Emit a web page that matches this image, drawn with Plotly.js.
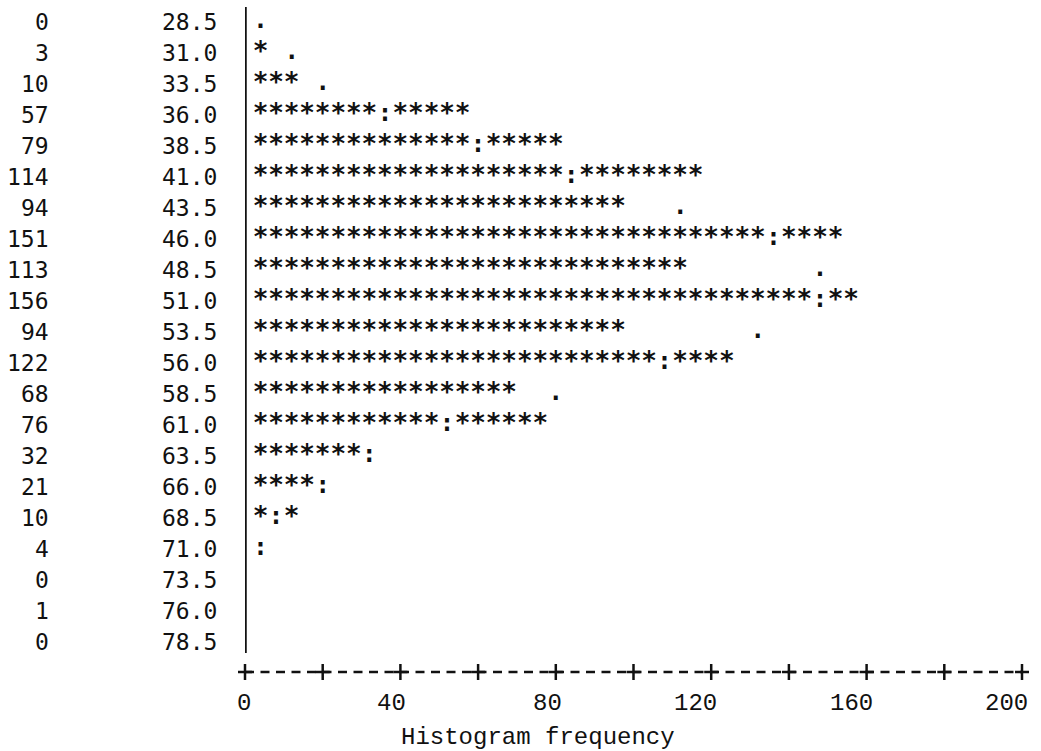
<!DOCTYPE html>
<html>
<head>
<meta charset="utf-8">
<script src="https://cdn.plot.ly/plotly-3.0.1.min.js"></script>
<style>
  html, body { margin: 0; padding: 0; background: #ffffff; }
  #chart { width: 1041px; height: 751px; }
</style>
</head>
<body>
<div id="chart"></div>
<script>
// ---- data (line-printer histogram) ----
const bins = [28.5, 31.0, 33.5, 36.0, 38.5, 41.0, 43.5, 46.0, 48.5, 51.0, 53.5,
              56.0, 58.5, 61.0, 63.5, 66.0, 68.5, 71.0, 73.5, 76.0, 78.5];
const binLabels = ['28.5', '31.0', '33.5', '36.0', '38.5', '41.0', '43.5', '46.0', '48.5', '51.0', '53.5',
                   '56.0', '58.5', '61.0', '63.5', '66.0', '68.5', '71.0', '73.5', '76.0', '78.5'];
const counts = [0, 3, 10, 57, 79, 114, 94, 151, 113, 156, 94,
                122, 68, 76, 32, 21, 10, 4, 0, 1, 0];
// expected (fitted) frequency marks shown as ':' inside a bar or '.' beyond it
const expected = [2, 10, 18, 34, 58, 82, 110, 134, 146, 146, 130,
                  106, 78, 50, 30, 18, 6, 2, null, null, null];
const unitsPerSymbol = 4;
const xRange = [0, 200];
const xTickVals = [0, 20, 40, 60, 80, 100, 120, 140, 160, 180, 200];
const xTickLabels = ['0', '', '40', '', '80', '', '120', '', '160', '', '200'];
const xTitle = 'Histogram frequency';

// ---- build symbol traces from the data ----
const starX = [], starY = [];
const markX = [], markY = [], markT = [];
for (let r = 0; r < bins.length; r++) {
  const n = Math.round(counts[r] / unitsPerSymbol);
  const k = expected[r] == null ? -1 : Math.floor(expected[r] / unitsPerSymbol);
  for (let i = 0; i < n; i++) {
    if (i === k) continue;
    starX.push(unitsPerSymbol * (i + 1));
    starY.push(bins[r]);
  }
  if (k >= 0) {
    markX.push(unitsPerSymbol * (k + 1));
    markY.push(bins[r]);
    markT.push(k < n ? ':' : '.');
  }
}

const mono = 'DejaVu Sans Mono, monospace';
const courier = 'Liberation Mono, monospace';

const traces = [
  {
    type: 'scatter', mode: 'text',
    x: starX, y: starY,
    text: starX.map(() => '*'),
    textposition: 'middle center',
    textfont: { family: mono, size: 26, weight: 'bold', color: '#111111' },
    cliponaxis: false, hoverinfo: 'skip', showlegend: false
  },
  {
    type: 'scatter', mode: 'text',
    x: markX, y: markY, text: markT,
    textposition: 'middle center',
    textfont: { family: mono, size: 24, weight: 'bold', color: '#111111' },
    cliponaxis: false, hoverinfo: 'skip', showlegend: false
  }
];

const plotLeft = 245, plotW = 777;
const plotTop = 7, plotBottom = 672, plotH = plotBottom - plotTop;
const rowPx = 31;
const yTop = bins[0] - (22 - plotTop) / (rowPx / 2.5);
const yBot = bins[bins.length - 1] + (plotBottom - 642) / (rowPx / 2.5);

const toPaperX = v => (v - xRange[0]) / (xRange[1] - xRange[0]);

const shapes = [];
// vertical bar "|"
shapes.push({ type: 'line', xref: 'x', yref: 'paper', x0: 0, x1: 0,
  y0: (plotBottom - 653) / plotH, y1: 1, line: { color: '#111111', width: 3.5 } });
// dashed axis "+----+----+"
shapes.push({ type: 'line', xref: 'x', yref: 'paper', x0: xRange[0], x1: xRange[1],
  y0: 0, y1: 0, line: { color: '#111111', width: 2.5, dash: '9px,6.5px' } });
xTickVals.forEach(v => {
  shapes.push({ type: 'line', xref: 'paper', yref: 'paper', x0: toPaperX(v), x1: toPaperX(v),
    y0: -8 / plotH, y1: 8 / plotH, line: { color: '#111111', width: 2.5 } });
  shapes.push({ type: 'line', xref: 'paper', yref: 'paper',
    x0: toPaperX(v) - 7 / plotW, x1: toPaperX(v) + 7 / plotW,
    y0: 0, y1: 0, line: { color: '#111111', width: 2.5 } });
});

const annotations = counts.map((c, r) => ({
  xref: 'paper', yref: 'y', x: (51 - plotLeft) / plotW, y: bins[r],
  text: String(c), showarrow: false, xanchor: 'right', yanchor: 'middle',
  font: { family: mono, size: 23, color: '#111111' }
}));
// printer style axis numbers: last digit sits under its '+'
xTickVals.forEach((v, i) => {
  if (!xTickLabels[i]) return;
  annotations.push({
    xref: 'x', yref: 'paper', x: v, y: (plotBottom - 703) / plotH,
    text: xTickLabels[i], showarrow: false, xanchor: 'right', yanchor: 'middle',
    xshift: 8, font: { family: courier, size: 24, color: '#111111' }
  });
});
annotations.push({
  xref: 'paper', yref: 'paper', x: (538 - plotLeft) / plotW, y: (plotBottom - 737) / plotH,
  text: xTitle, showarrow: false, xanchor: 'center', yanchor: 'middle',
  font: { family: courier, size: 24, color: '#111111' }
});

const layout = {
  width: 1041, height: 751,
  margin: { l: plotLeft, r: 1041 - plotLeft - plotW, t: plotTop, b: 751 - plotBottom, pad: 0 },
  paper_bgcolor: '#ffffff', plot_bgcolor: '#ffffff',
  showlegend: false,
  xaxis: {
    range: xRange, showgrid: false, zeroline: false, showline: false,
    tickmode: 'array', tickvals: xTickVals, showticklabels: false, ticks: '',
    fixedrange: true
  },
  yaxis: {
    range: [yBot, yTop], showgrid: false, zeroline: false, showline: false,
    tickmode: 'array', tickvals: bins, ticktext: binLabels,
    ticks: 'outside', ticklen: 22, tickcolor: 'rgba(0,0,0,0)',
    tickfont: { family: mono, size: 23, color: '#111111' },
    fixedrange: true
  },
  shapes: shapes,
  annotations: annotations
};

Plotly.newPlot('chart', traces, layout, { displayModeBar: false, staticPlot: true });
</script>
</body>
</html>
